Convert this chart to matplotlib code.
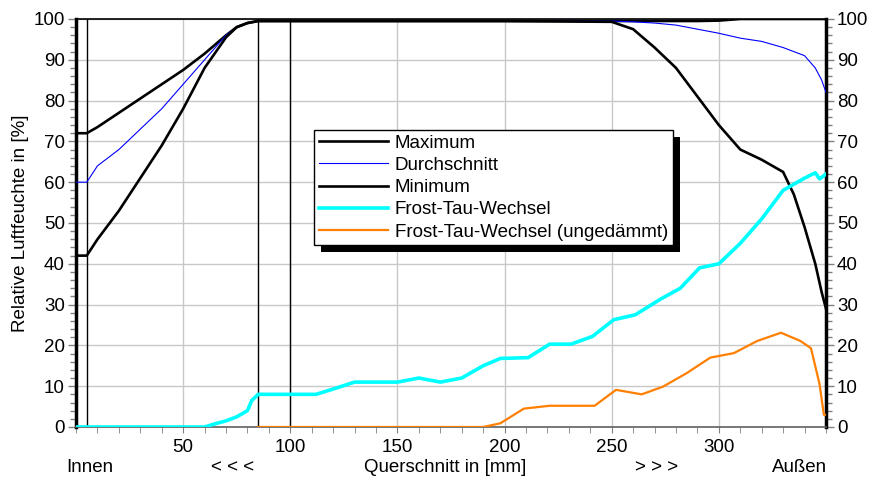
import numpy as np
import matplotlib
matplotlib.use("Agg")
import matplotlib.pyplot as plt
from matplotlib.ticker import MultipleLocator
import matplotlib.patheffects as pe

plt.rcParams['font.family'] = ['Liberation Sans', 'DejaVu Sans']
fs = 13.5

# Maximum / Durchschnitt / Minimum share the x positions
x_rh = [0, 5, 10, 20, 30, 40, 50, 60, 70, 75, 80, 85, 100, 150, 200, 250, 260,
        270, 280, 290, 300, 310, 320, 330, 335, 340, 345, 348, 350]
maximum = [72, 72, 73.5, 77, 80.5, 84, 87.5, 91.5, 96, 98, 99, 99.5, 99.5, 99.5,
           99.5, 99.5, 99.5, 99.5, 99.5, 99.5, 99.6, 100, 100, 100, 100, 100,
           100, 100, 100]
durchschnitt = [60, 60, 64, 68, 73, 78, 84, 90, 96, 98, 99, 99.5, 99.5, 99.5,
                99.5, 99.5, 99.3, 99, 98.5, 97.5, 96.5, 95.3, 94.5, 93, 92,
                91, 88, 85, 82]
minimum = [42, 42, 46, 53, 61, 69, 78, 88, 95.5, 98, 99, 99.5, 99.5, 99.5,
           99.5, 99.3, 97.5, 93, 88, 81, 74, 68, 65.5, 62.5, 57, 49, 40, 33, 29]

x_ftw = [0, 60, 65, 70, 75, 80, 82, 85, 100, 112, 120, 130, 140, 150, 160, 170,
         180, 190, 198, 211, 221, 231, 241, 251, 261, 273, 282, 291, 300, 310,
         320, 330, 340, 345, 347, 350]
ftw = [0, 0, 0.8, 1.5, 2.5, 4, 6.5, 8, 8, 8, 9.3, 11, 11, 11, 12, 11, 12, 15,
       16.8, 17, 20.3, 20.3, 22.2, 26.3, 27.5, 31.4, 34, 39, 40, 45, 51, 58,
       61, 62.3, 60.8, 62]

x_ftw_u = [85, 190, 198, 209, 221, 242, 252, 264, 274, 285, 296, 307, 318, 329,
           338, 343, 347, 349, 351]
ftw_u = [0, 0, 0.9, 4.5, 5.2, 5.2, 9.1, 8, 9.9, 13.2, 17, 18.1, 21.1, 23.1,
         21.1, 19.3, 10.5, 3, 3]

vlines = [5, 85, 100]

fig = plt.figure(figsize=(8.69, 4.84), dpi=100)
ax = fig.add_axes([0.0875, 0.1178, 0.863, 0.843])

ax.plot(x_rh, maximum, color='black', lw=1.9, label='Maximum', zorder=5)
ax.plot(x_rh, durchschnitt, color='#0000ff', lw=0.8, label='Durchschnitt', zorder=5)
ax.plot(x_rh, minimum, color='black', lw=1.9, label='Minimum', zorder=5)
ax.plot(x_ftw_u, ftw_u, color='#ff7f00', lw=1.6, zorder=4)
ax.plot(x_ftw, ftw, color='#00ffff', lw=2.6, label='Frost-Tau-Wechsel', zorder=6)
ax.plot([], [], color='#ff7f00', lw=1.6, label='Frost-Tau-Wechsel (ungedämmt)')

for v in vlines:
    ax.axvline(v, color='black', lw=1.0, zorder=3)

ax.set_xlim(0, 350)
ax.set_ylim(0, 100)
ax.xaxis.set_major_locator(MultipleLocator(50))
ax.xaxis.set_minor_locator(MultipleLocator(10))
ax.yaxis.set_major_locator(MultipleLocator(10))
ax.yaxis.set_minor_locator(MultipleLocator(2))
ax.grid(True, which='major', color='#c8c8c8', lw=1.0, zorder=0)
ax.set_axisbelow(True)

ax.set_xticks([50, 100, 150, 200, 250, 300])
ax.tick_params(axis='x', which='major', length=4, color='#808080', labelsize=fs, pad=5)
ax.tick_params(axis='x', which='minor', length=4, color='#808080')
ax.tick_params(axis='y', which='both', left=True, right=True, labelleft=True,
               labelright=True, labelsize=fs, color='#808080')
ax.tick_params(axis='y', which='major', length=6, width=1.0, pad=2)
ax.tick_params(axis='y', which='minor', length=4, width=1.0)

for side in ['left', 'right']:
    ax.spines[side].set_linewidth(2.5)
    ax.spines[side].set_color('black')
ax.spines['top'].set_linewidth(1.2)
ax.spines['bottom'].set_linewidth(1.2)
ax.spines['bottom'].set_color('#606060')

ax.set_ylabel('Relative Luftfeuchte in [%]', fontsize=fs, labelpad=3)

# bottom labels
for xpos, txt in [(90, 'Innen'), (233, '< < <'), (445, 'Querschnitt in [mm]'),
                  (657, '> > >'), (800, 'Außen')]:
    fig.text(xpos / 869, 1 - 468 / 484, txt, ha='center', va='center', fontsize=fs)

leg = ax.legend(loc='upper left', bbox_to_anchor=((314 - 76) / 750, (427 - 130) / 408),
                frameon=True, fancybox=False, shadow=False, fontsize=fs,
                framealpha=1.0, borderpad=0.25, labelspacing=0.27, handlelength=3.7,
                handletextpad=0.35, borderaxespad=0)
frame = leg.get_frame()
frame.set_facecolor('white')
frame.set_edgecolor('black')
frame.set_linewidth(1.0)
frame.set_path_effects([pe.SimplePatchShadow(offset=(5, -5), shadow_rgbFace='black', alpha=1.0),
                        pe.Normal()])
leg.set_zorder(10)

fig.savefig('out.png', dpi=100)
